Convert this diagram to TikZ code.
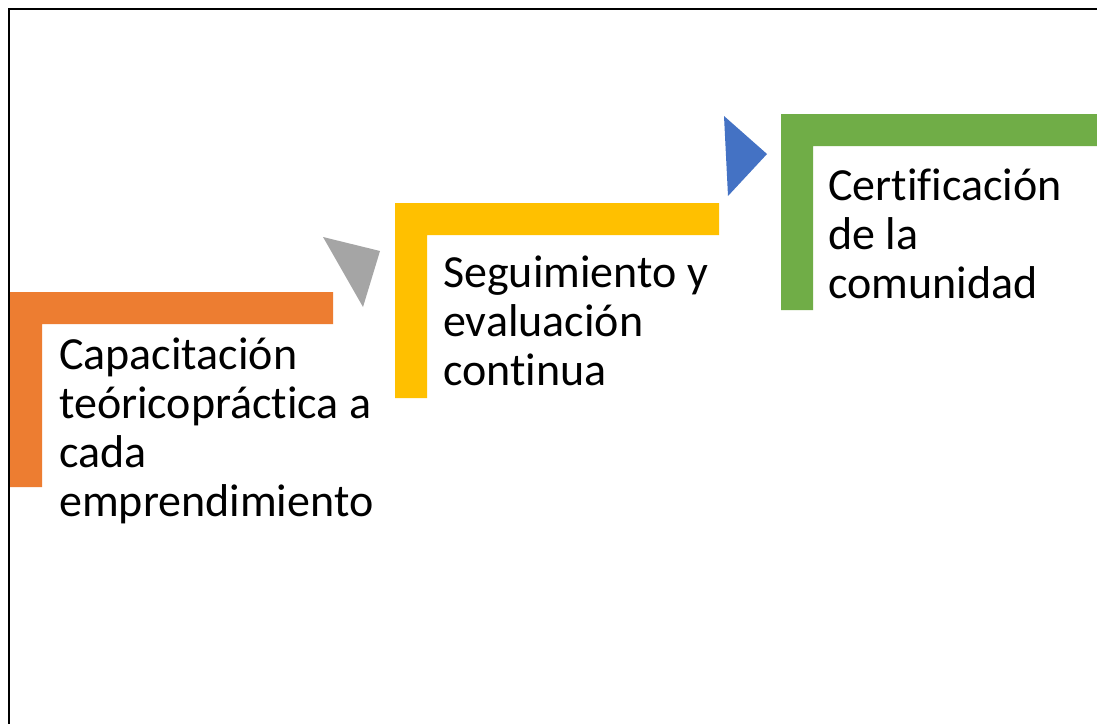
\documentclass[tikz,border=0pt]{standalone}
\usepackage{fontspec}
\setmainfont{Carlito}[Ligatures=NoCommon]
\usepackage{xcolor}
\usepackage{tikz}
\definecolor{stepone}{HTML}{ED7D31}
\definecolor{steptwo}{HTML}{FFC000}
\definecolor{stepthree}{HTML}{70AD47}
\definecolor{pointgray}{HTML}{A5A5A5}
\definecolor{pointblue}{HTML}{4472C4}

\begin{document}
\begin{tikzpicture}[x=1pt,y=-1pt]
    \tikzstyle{word}=[anchor=base west,align=left,inner sep=0pt,font=\fontsize{46}{49}\selectfont]
    \tikzstyle{frame}=[draw=black,line width=2pt]
    \tikzstyle{pointer}=[draw=none]

    \def\bw{32}

    \useasboundingbox (0,0) rectangle (1097,723);
    \fill[white] (0,0) rectangle (1097,723);
    \draw[frame] (9,9) rectangle (1120,750);

    % the three steps
    \fill[stepone] (10,292) -- (333,292) -- (333,292+\bw) -- (10+\bw,292+\bw) -- (10+\bw,487) -- (10,487) -- cycle;
    \fill[steptwo] (395,203) -- (719,203) -- (719,203+\bw) -- (395+\bw,203+\bw) -- (395+\bw,398) -- (395,398) -- cycle;
    \fill[stepthree] (781,114) -- (1110,114) -- (1110,114+\bw) -- (781+\bw,114+\bw) -- (781+\bw,310) -- (781,310) -- cycle;

    % pointers between the steps
    \fill[pointer,pointgray] (323,237) -- (380,251) -- (363,307) -- cycle;
    \fill[pointer,pointblue] (724,116) -- (767,154) -- (728,196) -- cycle;

    % text sits on the baseline of its last line
    \node[word] (t1) at (59,516) {Capacitación\\teóricopráctica a\\cada\\emprendimiento};
    \node[word] (t2) at (443,385) {Seguimiento y\\evaluación\\continua};
    \node[word] (t3) at (828,298) {Certificación\\de la\\comunidad};

\end{tikzpicture}
\end{document}
